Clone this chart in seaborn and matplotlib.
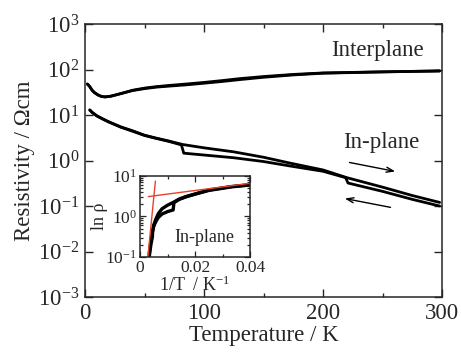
import numpy as np
import pandas as pd
import matplotlib
matplotlib.use("Agg")
import matplotlib.pyplot as plt
import matplotlib.ticker as mticker
import seaborn as sns

# Interplane resistivity, warming and cooling sweeps
interplane_T = [2, 4, 6, 8, 11, 14, 17, 22, 30, 40, 50, 60, 70, 85, 100, 115, 130, 150, 175, 200, 250, 298]
interplane_warm = [48, 42, 35, 31, 27.5, 25.5, 25, 26, 29.5, 35, 39, 42, 44.5, 48, 52, 57, 63, 70, 78, 84, 89, 93]
interplane_cool = [48, 42, 35, 31, 27.5, 25.5, 25, 26, 29.5, 34.5, 38, 41, 43, 46, 50, 54.5, 60, 67.5, 76, 83, 88.5, 93]

# In-plane resistivity, warming sweep (upper, smooth)
inplane_warm_T = [4, 6, 10, 15, 20, 30, 40, 50, 60, 70, 82, 100, 125, 150, 172, 200, 220, 250, 275, 298]
inplane_warm_rho = [13, 11.5, 9.6, 8.2, 7.1, 5.5, 4.5, 3.6, 3.1, 2.7, 2.25, 1.9, 1.55, 1.18, 0.88, 0.62, 0.42, 0.26, 0.17, 0.12]

# In-plane resistivity, cooling sweep (lower, with jumps near 82 K and 220 K)
inplane_cool_T = [298, 275, 250, 221, 219, 200, 172, 150, 125, 100, 83, 81, 70, 60, 50, 40, 30, 20, 15, 10, 6, 4]
inplane_cool_rho = [0.10, 0.14, 0.21, 0.32, 0.42, 0.58, 0.76, 0.95, 1.15, 1.32, 1.45, 2.2, 2.65, 3.05, 3.55, 4.4, 5.4, 7.0, 8.1, 9.5, 11.3, 12.8]

# Linear fits of ln(rho) against 1/T (end points)
fit_high_x = [0.00285, 0.0056]
fit_high_y = [0.1, 7.5]
fit_low_x = [0.0030, 0.040]
fit_low_y = [3.1, 6.6]

sns.set_style("ticks")
plt.rcParams["font.family"] = ["Liberation Serif", "DejaVu Serif"]
plt.rcParams["mathtext.fontset"] = "custom"
plt.rcParams["mathtext.rm"] = "Liberation Serif"
plt.rcParams["mathtext.it"] = "Liberation Serif:italic"
plt.rcParams["axes.linewidth"] = 1.1

curves = pd.concat([
    pd.DataFrame({"T": interplane_T, "rho": interplane_warm, "run": "inter_w"}),
    pd.DataFrame({"T": interplane_T, "rho": interplane_cool, "run": "inter_c"}),
    pd.DataFrame({"T": inplane_warm_T, "rho": inplane_warm_rho, "run": "in_w"}),
    pd.DataFrame({"T": inplane_cool_T, "rho": inplane_cool_rho, "run": "in_c"}),
], ignore_index=True)
curves["invT"] = 1.0 / curves["T"]

fig = plt.figure(figsize=(4.61, 3.52), dpi=100)
ax = fig.add_axes([0.1844, 0.1562, 0.9588 - 0.1844, 0.9318 - 0.1562])

for run, grp in curves.groupby("run", sort=False):
    sns.lineplot(data=grp, x="T", y="rho", ax=ax, color="black", lw=2.0,
                 sort=False, estimator=None, legend=False)

ax.set_yscale("log")
ax.set_xlim(0, 300)
ax.set_ylim(1e-3, 1e3)
ax.xaxis.set_major_locator(mticker.MultipleLocator(100))
ax.xaxis.set_minor_locator(mticker.MultipleLocator(50))
ax.yaxis.set_major_locator(mticker.LogLocator(base=10, numticks=10))
ax.yaxis.set_minor_locator(mticker.NullLocator())
ax.tick_params(which="both", direction="in", top=True, right=True, width=1.0)
ax.tick_params(which="major", length=6, labelsize=16.5, pad=4)
ax.tick_params(which="minor", length=3)
ax.set_xlabel("Temperature / K", fontsize=16.5, labelpad=1)
ax.set_ylabel("Resistivity / Ωcm", fontsize=16.5, labelpad=2)

ax.text(246, 260, "Interplane", fontsize=16.5, ha="center", va="center")
ax.text(249, 2.45, "In-plane", fontsize=16.5, ha="center", va="center")
arrow_style = dict(arrowstyle="->,head_length=0.5,head_width=0.18", color="black", lw=1.0)
ax.annotate("", xy=(263, 0.56), xytext=(220, 0.93), arrowprops=arrow_style)
ax.annotate("", xy=(216, 0.15), xytext=(259, 0.091), arrowprops=arrow_style)

# Inset: rho against 1/T for the in-plane direction
ins = fig.add_axes([0.3037, 0.2699, 0.2386, 0.2301])
for run in ["in_w", "in_c"]:
    grp = curves[curves["run"] == run]
    sns.lineplot(data=grp, x="invT", y="rho", ax=ins, color="black", lw=2.4,
                 sort=False, estimator=None, legend=False)
ins.plot(fit_high_x, fit_high_y, color="#e8412c", lw=1.0)
ins.plot(fit_low_x, fit_low_y, color="#e8412c", lw=1.0)
ins.set_yscale("log")
ins.set_xlim(0, 0.04)
ins.set_ylim(0.1, 10)
ins.xaxis.set_major_locator(mticker.FixedLocator([0, 0.02, 0.04]))
ins.xaxis.set_major_formatter(mticker.FixedFormatter(["0", "0.02", "0.04"]))
ins.xaxis.set_minor_locator(mticker.MultipleLocator(0.01))
ins.yaxis.set_major_locator(mticker.LogLocator(base=10, numticks=5))
ins.yaxis.set_minor_locator(mticker.LogLocator(base=10, subs=np.arange(2, 10), numticks=5))
ins.yaxis.set_minor_formatter(mticker.NullFormatter())
ins.tick_params(which="both", direction="in", top=True, right=True, width=0.9)
ins.tick_params(which="major", length=4, labelsize=12.5, pad=2)
ins.tick_params(which="minor", length=2.5)
ins.set_xlabel("1/T  / K$^{-1}$", fontsize=13, labelpad=0)
ins.set_ylabel("ln ρ", fontsize=13, labelpad=-2)
ins.text(0.0235, 0.31, "In-plane", fontsize=13, ha="center", va="center")

fig.savefig("out.png", dpi=100)
